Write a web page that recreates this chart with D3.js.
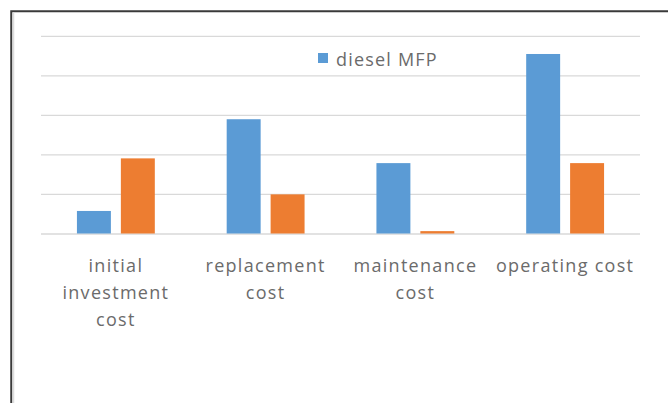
<!DOCTYPE html>
<html>
<head>
<meta charset="utf-8">
<script src="https://cdn.jsdelivr.net/npm/d3@7"></script>
<style>
  html, body { margin: 0; padding: 0; background: #ffffff; }
  svg { display: block; }
  text { font-family: "Open Sans", sans-serif; fill: #6b6b6b; }
</style>
</head>
<body>
<svg id="chart" width="668" height="403"></svg>
<script>
// Cost categories, with the line breaks used for their axis labels
const categories = ["initial investment cost", "replacement cost", "maintenance cost", "operating cost"];
const categoryLines = [["initial", "investment", "cost"], ["replacement", "cost"], ["maintenance", "cost"], ["operating cost"]];

// Series (relative cost units)
const seriesNames = ["diesel MFP", "electric MFP"];
const dieselValues = [0.57, 2.89, 1.78, 4.54];
const electricValues = [1.90, 0.99, 0.06, 1.78];

// Gridline levels
const gridTicks = [0, 1, 2, 3, 4, 5];

// Only the first series is listed in the legend
const legendEntries = ["diesel MFP"];

const colors = ["#5b9bd5", "#ed7d31"];

const svg = d3.select("#chart");
const W = 668, H = 403;

// Outer frame
svg.append("rect")
  .attr("x", 11.25).attr("y", 11.25)
  .attr("width", W + 10).attr("height", H + 10)
  .attr("fill", "#ffffff")
  .attr("stroke", "#3a3a3a")
  .attr("stroke-width", 2);
svg.append("line")
  .attr("x1", 13.5).attr("x2", 13.5)
  .attr("y1", 12.5).attr("y2", H)
  .attr("stroke", "#dcdcdc").attr("stroke-width", 1.5);

const plot = { left: 41, right: 640, top: 35.8, bottom: 233.5 };

const x0 = d3.scaleBand()
  .domain(categories)
  .range([plot.left, plot.right])
  .paddingInner(0).paddingOuter(0);

const x1 = d3.scaleBand()
  .domain(seriesNames)
  .range([0, x0.bandwidth()])
  .paddingInner(0.227)
  .paddingOuter(0.818);

const y = d3.scaleLinear()
  .domain([0, 5])
  .range([plot.bottom, plot.top]);

// Horizontal gridlines (no tick labels)
const yAxis = d3.axisLeft(y)
  .tickValues(gridTicks)
  .tickSize(-(plot.right - plot.left))
  .tickFormat("");
const gy = svg.append("g")
  .attr("transform", `translate(${plot.left},0)`)
  .call(yAxis);
gy.select(".domain").remove();
gy.selectAll(".tick line")
  .attr("stroke", "#d9d9d9")
  .attr("stroke-width", 1.3);

// Bars
const rows = categories.map((c, i) => ({
  category: c,
  values: [
    { series: seriesNames[0], value: dieselValues[i] },
    { series: seriesNames[1], value: electricValues[i] }
  ]
}));

const groups = svg.append("g").selectAll("g")
  .data(rows)
  .join("g")
  .attr("transform", d => `translate(${x0(d.category)},0)`);

groups.selectAll("rect")
  .data(d => d.values)
  .join("rect")
  .attr("x", d => x1(d.series))
  .attr("width", x1.bandwidth())
  .attr("y", d => y(d.value))
  .attr("height", d => y(0) - y(d.value))
  .attr("fill", (d, i) => colors[i]);

// Category labels along the bottom
const xAxis = d3.axisBottom(x0).tickSize(0).tickFormat("");
const gx = svg.append("g")
  .attr("transform", `translate(0,${plot.bottom})`)
  .call(xAxis);
gx.select(".domain").remove();
gx.selectAll(".tick").each(function(d, i) {
  const t = d3.select(this).append("text")
    .attr("text-anchor", "middle")
    .attr("y", 38)
    .style("font-size", "18px")
    .style("letter-spacing", "1.3px")
    .style("fill", "#6b6b6b");
  categoryLines[i].forEach((line, k) => {
    t.append("tspan")
      .attr("x", 0)
      .attr("dy", k === 0 ? 0 : 27)
      .text(line);
  });
});

// Legend
const legend = svg.append("g").attr("transform", "translate(318,53)");
legendEntries.forEach((name, i) => {
  legend.append("rect")
    .attr("x", 0).attr("y", 0)
    .attr("width", 10).attr("height", 10)
    .attr("fill", colors[i]);
  legend.append("text")
    .attr("x", 18).attr("y", 13)
    .style("font-size", "18px")
    .style("letter-spacing", "1.2px")
    .text(name);
});
</script>
</body>
</html>
